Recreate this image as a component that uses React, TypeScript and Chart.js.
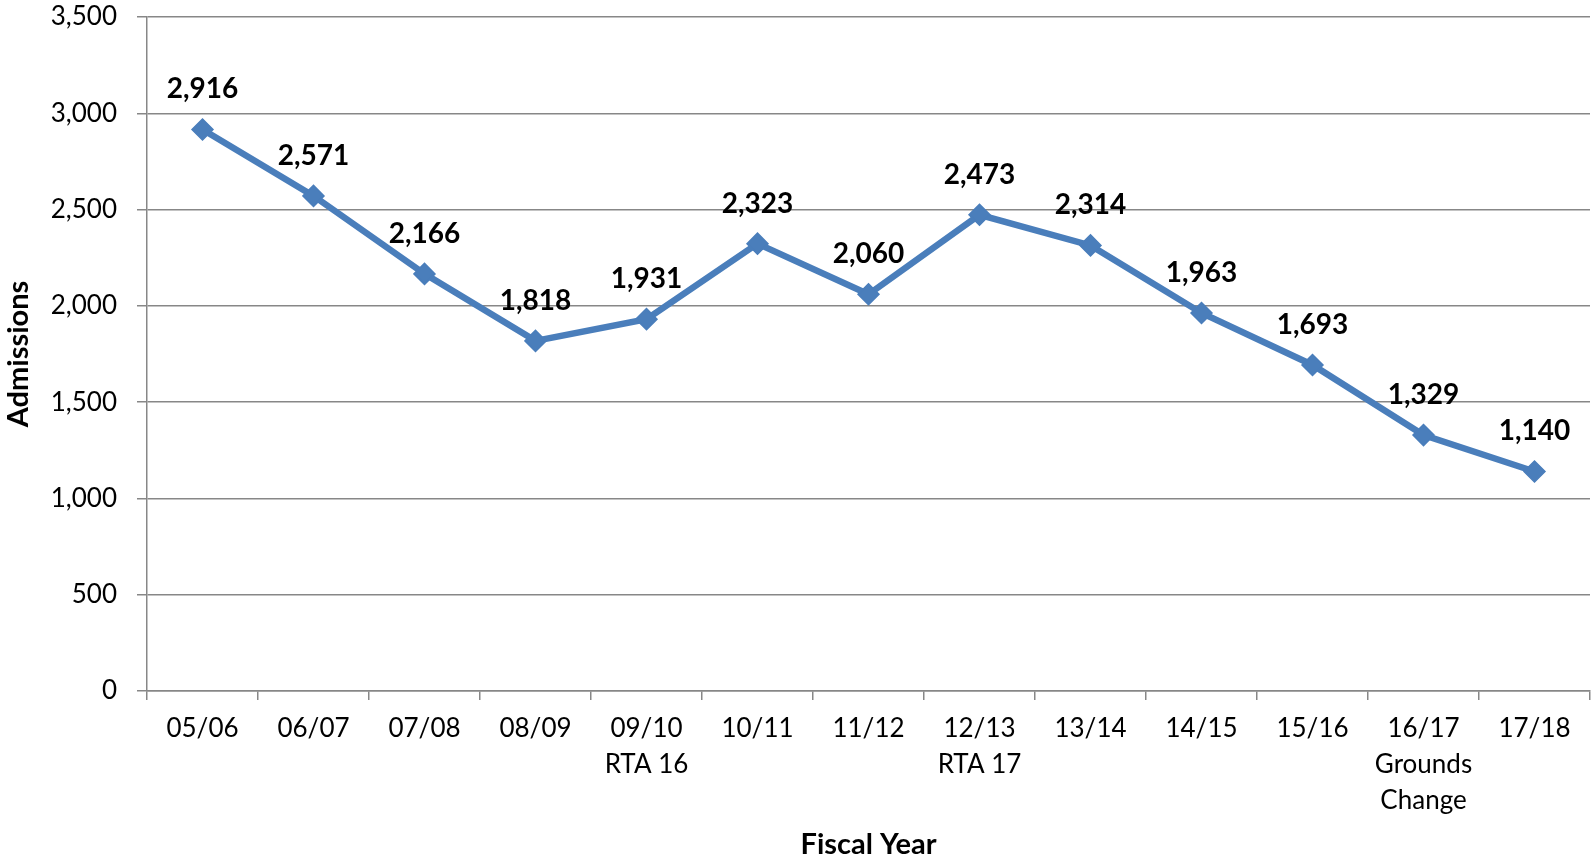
import React, { useEffect, useRef } from "react";
import { Chart, registerables } from "chart.js";

Chart.register(...registerables);

const categories: (string | string[])[] = [
  "05/06",
  "06/07",
  "07/08",
  "08/09",
  ["09/10", "RTA 16"],
  "10/11",
  "11/12",
  ["12/13", "RTA 17"],
  "13/14",
  "14/15",
  "15/16",
  ["16/17", "Grounds", "Change"],
  "17/18",
];

const admissions: number[] = [2916, 2571, 2166, 1818, 1931, 2323, 2060, 2473, 2314, 1963, 1693, 1329, 1140];

const yTickMin = 0;
const yTickMax = 3500;
const yTickStep = 500;

const FONT = "Lato, 'Open Sans', 'Noto Sans', sans-serif";
const LINE_COLOR = "#4A7EBB";
const GRID_COLOR = "#878787";

const dataLabelPlugin = {
  id: "dataLabels",
  afterDatasetsDraw(chart: any) {
    const ctx = chart.ctx;
    chart.data.datasets.forEach((ds: any, i: number) => {
      const meta = chart.getDatasetMeta(i);
      meta.data.forEach((el: any, j: number) => {
        const v = ds.data[j] as number;
        ctx.save();
        ctx.font = `bold 28px ${FONT}`;
        ctx.fillStyle = "#000000";
        ctx.textAlign = "center";
        ctx.textBaseline = "middle";
        ctx.fillText(v.toLocaleString("en-US"), el.x, el.y - 40);
        ctx.restore();
      });
    });
  },
};

export default function App() {
  const canvasRef = useRef<HTMLCanvasElement | null>(null);

  useEffect(() => {
    document.documentElement.style.overflow = "hidden";
    document.body.style.margin = "0";
    document.body.style.overflow = "hidden";
    if (!canvasRef.current) return;
    const chart = new Chart(canvasRef.current, {
      type: "line",
      data: {
        labels: categories,
        datasets: [
          {
            data: admissions,
            borderColor: LINE_COLOR,
            backgroundColor: LINE_COLOR,
            borderWidth: 6.5,
            pointStyle: "rectRot",
            pointRadius: 10.5,
            pointBorderWidth: 1.5,
            pointBackgroundColor: LINE_COLOR,
            pointBorderColor: LINE_COLOR,
            tension: 0,
          },
        ],
      },
      plugins: [dataLabelPlugin],
      options: {
        animation: false,
        responsive: true,
        maintainAspectRatio: false,
        layout: { autoPadding: false, padding: { top: 17, right: 1, left: 0, bottom: 0 } },
        plugins: {
          legend: { display: false },
          tooltip: { enabled: false },
        },
        scales: {
          x: {
            type: "category",
            offset: true,
            grid: {
              offset: true,
              drawOnChartArea: false,
              drawTicks: true,
              tickLength: 9,
              color: GRID_COLOR,
              lineWidth: 1.5,
            },
            border: { color: GRID_COLOR, width: 1.5 },
            ticks: {
              color: "#000000",
              font: { family: FONT, size: 26, lineHeight: 1.4 },
              padding: 10,
              maxRotation: 0,
              autoSkip: false,
            },
            title: {
              display: true,
              text: "Fiscal Year",
              color: "#000000",
              font: { family: FONT, size: 29, weight: "bold", lineHeight: 1.1 },
              padding: { top: 0, bottom: 0 },
            },
            afterFit(scale: any) {
              scale.height = 170;
              scale.paddingLeft = 0;
              scale.paddingRight = 0;
            },
          },
          y: {
            min: yTickMin,
            max: yTickMax,
            ticks: {
              stepSize: yTickStep,
              color: "#000000",
              font: { family: FONT, size: 26 },
              padding: 20,
            },
            grid: {
              color: GRID_COLOR,
              lineWidth: 1.5,
              tickLength: 10,
            },
            border: { color: GRID_COLOR, width: 1.5 },
            title: {
              display: true,
              text: "Admissions",
              color: "#000000",
              font: { family: FONT, size: 29, weight: "bold", lineHeight: 1.2 },
              padding: { top: 1, bottom: 0 },
            },
            afterFit(scale: any) {
              scale.width = 147;
              scale.paddingTop = 0;
              scale.paddingBottom = 0;
            },
          },
        },
      },
    } as any);
    return () => chart.destroy();
  }, []);

  return (
    <div style={{ position: "absolute", left: 0, top: 0, width: 1591, height: 861, background: "#ffffff", overflow: "hidden" }}>
      <canvas ref={canvasRef} />
    </div>
  );
}
